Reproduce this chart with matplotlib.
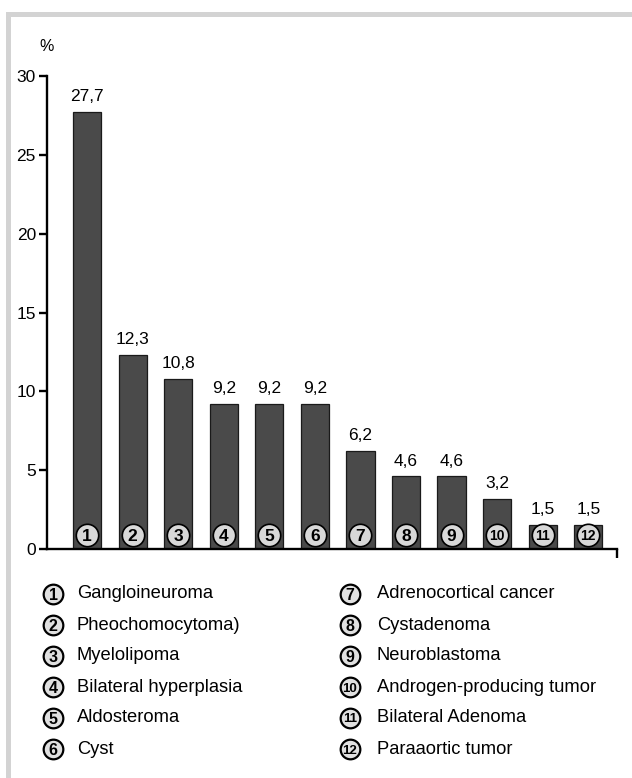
import matplotlib
matplotlib.use("Agg")
import matplotlib.pyplot as plt
from matplotlib import font_manager
from matplotlib.patches import Rectangle

plt.rcParams['font.family'] = ['Liberation Sans', 'DejaVu Sans']

# narrow face for the numeric labels when it is available
try:
    font_manager.findfont("Liberation Sans Narrow", fallback_to_default=False)
    num_family = ['Liberation Sans Narrow', 'Liberation Sans']
except Exception:
    num_family = ['Liberation Sans', 'DejaVu Sans']

numbers = list(range(1, 13))
values = [27.7, 12.3, 10.8, 9.2, 9.2, 9.2, 6.2, 4.6, 4.6, 3.2, 1.5, 1.5]
names = [
    "Gangloineuroma", "Pheochomocytoma)", "Myelolipoma", "Bilateral hyperplasia",
    "Aldosteroma", "Cyst", "Adrenocortical cancer", "Cystadenoma",
    "Neuroblastoma", "Androgen-producing tumor", "Bilateral Adenoma", "Paraaortic tumor",
]
yticks = [0, 5, 10, 15, 20, 25, 30]

W, H = 632, 778
fig = plt.figure(figsize=(W / 100, H / 100), dpi=100)

# light grey frame along the top and left edges
frame = "#d3d3d3"
fig.patches.append(Rectangle((6 / W, 1 - 17 / H), 1 - 6 / W, 5 / H, transform=fig.transFigure,
                             facecolor=frame, edgecolor="none"))
fig.patches.append(Rectangle((6 / W, 0), 5 / W, 1 - 12 / H, transform=fig.transFigure,
                             facecolor=frame, edgecolor="none"))

ax_l, ax_r, ax_b, ax_t = 47, 617, 549, 76
ax = fig.add_axes([ax_l / W, 1 - ax_b / H, (ax_r - ax_l) / W, (ax_b - ax_t) / H])
x = list(range(len(values)))
ax.bar(x, values, width=0.62, color="#4a4a4a", edgecolor="#1a1a1a", linewidth=0.9, zorder=2)
ax.set_xlim(-0.88, 11.63)
ax.set_ylim(0, 30)
ax.set_yticks(yticks)
ax.set_yticklabels([str(t) for t in yticks], fontsize=12.5, family=num_family)
ax.set_xticks([])
for s in ("top", "right"):
    ax.spines[s].set_visible(False)
ax.spines["left"].set_linewidth(1.7)
ax.spines["bottom"].set_linewidth(1.7)
ax.tick_params(axis="y", direction="out", length=6, width=1.7, pad=2)
ax.text(-0.9, 31.9, "%", fontsize=11.5, ha="center", va="center", family=num_family)
# closing tick at the right end of the baseline
ax.plot([11.63, 11.63], [0, -0.55], color="black", lw=1.7, clip_on=False, solid_capstyle="butt")

# numbered badges on the bars
badge_y = [0.9] * len(values)
ax.scatter(x, badge_y, s=260, facecolor="#d8d8d8", edgecolor="black", linewidth=1.2, zorder=3)
for xi, v, n in zip(x, values, numbers):
    ax.text(xi, v + 0.5, f"{v:.1f}".replace(".", ","), ha="center", va="bottom",
            fontsize=12.5, family=num_family)
    ax.text(xi, 0.9, str(n), ha="center", va="center_baseline", fontsize=12.5 if n < 10 else 10,
            fontweight="bold", zorder=4)

# legend of numbered categories, two columns
rows_y = [594, 625, 656, 687, 718, 749]
cols = [(53, 77), (350, 377)]
lx, ly = [], []
for i in range(len(names)):
    cx, tx = cols[i // 6]
    lx.append(cx / W)
    ly.append(1 - rows_y[i % 6] / H)
leg = fig.add_axes([0, 0, 1, 1], facecolor="none")
leg.set_xlim(0, 1)
leg.set_ylim(0, 1)
leg.axis("off")
leg.scatter(lx, ly, s=200, facecolor="#e0e0e0", edgecolor="black", linewidth=1.6, zorder=3)
for i, (n, name) in enumerate(zip(numbers, names)):
    cx, tx = cols[i // 6]
    leg.text(lx[i], ly[i], str(n), ha="center", va="center_baseline", fontsize=11.5 if n < 10 else 9.5,
             fontweight="bold", zorder=4)
    leg.text(tx / W, ly[i], name, ha="left", va="center", fontsize=13.2)

fig.savefig("out.png", dpi=100)
